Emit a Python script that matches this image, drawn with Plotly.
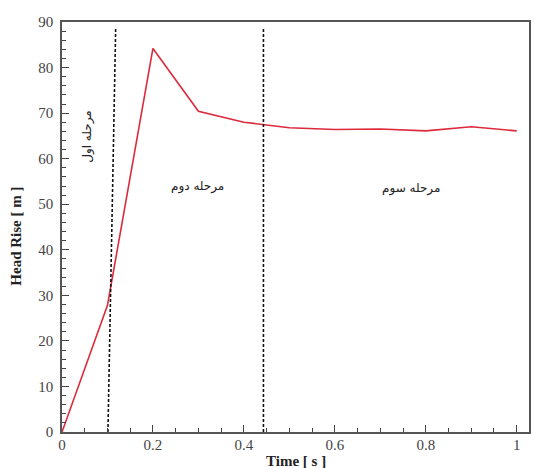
import plotly.graph_objects as go

# Data
time_s = [0, 0.1, 0.2, 0.3, 0.4, 0.5, 0.6, 0.7, 0.8, 0.9, 1.0]
head_rise = [0, 27.8, 84.2, 70.4, 68.0, 66.8, 66.4, 66.5, 66.1, 67.0, 66.1]

stage1_x = [0.101, 0.118]
stage1_y = [0, 88.5]
stage2_x = [0.443, 0.443]
stage2_y = [0, 88.5]

x_ticks = [0, 0.2, 0.4, 0.6, 0.8, 1]
x_tick_text = ["0", "0.2", "0.4", "0.6", "0.8", "1"]
y_ticks = [0, 10, 20, 30, 40, 50, 60, 70, 80, 90]

stage_labels = ["مرحله اول", "مرحله دوم", "مرحله سوم"]
stage_label_x = [0.057, 0.298, 0.768]
stage_label_y = [65, 54, 53.5]

fig = go.Figure()
fig.add_trace(go.Scatter(x=time_s, y=head_rise, mode="lines",
                         line=dict(color="#dc2a3c", width=1.6),
                         showlegend=False, hoverinfo="skip"))
for xs, ys in [(stage1_x, stage1_y), (stage2_x, stage2_y)]:
    fig.add_trace(go.Scatter(x=xs, y=ys, mode="lines",
                             line=dict(color="#111111", width=1.6, dash="3px,2px"),
                             showlegend=False, hoverinfo="skip"))

for i, (t, xv, yv) in enumerate(zip(stage_labels, stage_label_x, stage_label_y)):
    fig.add_annotation(x=xv, y=yv, xref="x", yref="y", text=t, showarrow=False,
                       textangle=-90 if i == 0 else 0,
                       font=dict(family="DejaVu Sans", size=12, color="#222222"))

serif = "Liberation Serif, Times New Roman, serif"

fig.add_annotation(x=0.5, y=-0.07, xref="paper", yref="paper",
                   text="<b>Time [ s ]</b>", showarrow=False,
                   xanchor="center", yanchor="middle",
                   font=dict(family=serif, size=15, color="#222222"))
fig.add_annotation(x=-0.098, y=0.477, xref="paper", yref="paper",
                   text="<b>Head Rise [ m ]</b>", showarrow=False, textangle=-90,
                   xanchor="center", yanchor="middle",
                   font=dict(family=serif, size=15, color="#222222"))

fig.update_layout(
    width=534, height=468,
    margin=dict(l=62, r=3, t=22, b=36),
    paper_bgcolor="white", plot_bgcolor="white",
    font=dict(family=serif, size=15, color="#333333"),
    xaxis=dict(range=[0, 1.027], tickvals=x_ticks, ticktext=x_tick_text,
               ticks="inside", ticklen=7, tickwidth=1.2, tickcolor="#444444",
               minor=dict(dtick=0.05, ticks="inside", ticklen=4, tickcolor="#444444", tickwidth=1),
               showline=True, linecolor="#555555", linewidth=1.5, mirror=True,
               showgrid=False, zeroline=False,
               ticklabelstandoff=-2,
               tickfont=dict(family=serif, size=15, color="#444444")),
    yaxis=dict(range=[0, 90], tickvals=y_ticks,
               ticks="inside", ticklen=7, tickwidth=1.2, tickcolor="#444444",
               minor=dict(dtick=2, ticks="inside", ticklen=4, tickcolor="#444444", tickwidth=1),
               showline=True, linecolor="#555555", linewidth=1.5, mirror=True,
               showgrid=False, zeroline=False,
               ticklabelstandoff=4,
               tickfont=dict(family=serif, size=15, color="#444444")),
)

fig.write_html("out.html", config={"displayModeBar": False},
               post_script="document.body.style.margin='0';document.body.style.padding='0';")
